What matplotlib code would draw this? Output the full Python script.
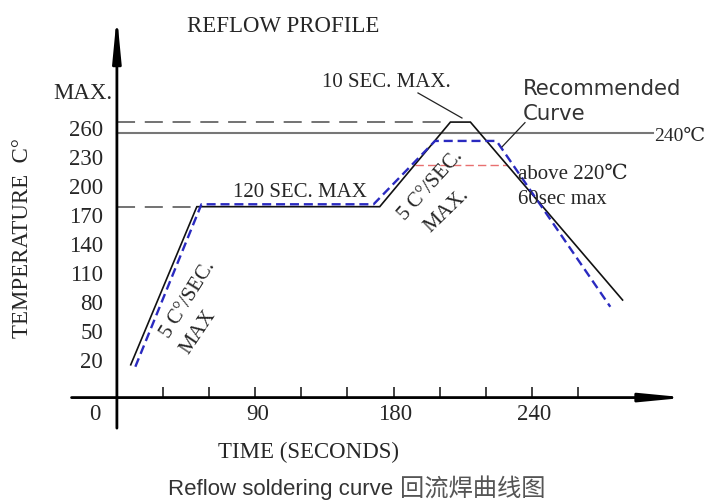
import matplotlib
matplotlib.use("Agg")
import matplotlib.pyplot as plt

plt.rcParams["lines.scale_dashes"] = False

# ---------------- data (chart units) ----------------
time_recommended = [9, 52, 171, 217, 230, 329]
temp_recommended = [15, 178.5, 178.5, 266, 266, 82]

time_alternative = [12, 55, 167, 207, 247, 321]
temp_alternative = [13, 181, 181, 246.5, 246.5, 75]

soak_limit_temp = 178.5      # dashed line labelled 170
soak_limit_end = 51
peak_limit_temp = 266        # dashed line labelled 260
peak_limit_end = 216
liquidus_temp = 255          # solid line labelled 240℃
liquidus_end = 349
above220_temp = 221.6        # red dashed, "above 220℃"
above220_start = 194
above220_end = 254

ytick_values = [20, 50, 80, 110, 140, 170, 200, 230, 260]
ytick_labels = ["20", "50", "80", "110", "140", "170", "200", "230", "260"]
max_label_value = 297
xtick_marks = [30, 60, 90, 120, 150, 180, 210, 240, 270, 300]
xlabel_positions = [90, 180, 270]
xlabel_texts = ["90", "180", "240"]

# ---------------- layout ----------------
W, H = 709, 503
X0_PX, X_SCALE = 116.9, 1.537     # px of t=0, px per second
Y0_PX, Y_SCALE = 379.3, 0.967     # px of T=0, px per degree
PX_T = 1 / Y_SCALE                # one pixel in temperature units
PX_S = 1 / X_SCALE                # one pixel in seconds

fig = plt.figure(figsize=(W / 100, H / 100), dpi=100)
ax = fig.add_axes([0, 0, 1, 1])
ax.set_xlim(-X0_PX / X_SCALE, (W - X0_PX) / X_SCALE)
ax.set_ylim((Y0_PX - H) / Y_SCALE, Y0_PX / Y_SCALE)
ax.axis("off")

serif = ["Liberation Serif", "DejaVu Serif", "Noto Sans CJK SC"]
tc = "#262626"

x_axis_T = -18.9
# axes with arrows
ax.annotate("", xy=(0, 376.5), xytext=(0, -50.5),
            arrowprops=dict(arrowstyle="-|>,head_length=2.6,head_width=0.25",
                            mutation_scale=10, lw=2.0, color="black",
                            shrinkA=0, shrinkB=0))
ax.annotate("", xy=(370.5, x_axis_T), xytext=(-29.5, x_axis_T),
            arrowprops=dict(arrowstyle="-|>,head_length=2.6,head_width=0.25",
                            mutation_scale=10, lw=2.0, color="black",
                            shrinkA=0, shrinkB=0))
# tick marks
ax.vlines(xtick_marks, x_axis_T, x_axis_T + 11 * PX_T, color="#333333", lw=1.3)

# reference lines
ax.plot([0, peak_limit_end], [peak_limit_temp] * 2, color="#5a5a5a", lw=1.2,
        dashes=(13, 7))
ax.plot([0, soak_limit_end], [soak_limit_temp] * 2, color="#5a5a5a", lw=1.2,
        dashes=(13, 7))
ax.plot([0, liquidus_end], [liquidus_temp] * 2, color="#777777", lw=1.5)
ax.plot([above220_start, above220_end], [above220_temp] * 2, color="#e87070",
        lw=1.0, dashes=(6, 3))

# curves
ax.plot(time_recommended, temp_recommended, color="#111111", lw=1.2,
        solid_joinstyle="miter")
ax.plot(time_alternative, temp_alternative, color="#2a2ac0", lw=1.7,
        dashes=(6.5, 3.5))

# leader lines
ax.plot([195.9, 224.5], [296.1, 270.2], color="#222222", lw=0.9)
ax.plot([265.5, 250.6], [265.4, 240.4], color="#222222", lw=0.9)

# y tick labels
for v, lab in zip(ytick_values, ytick_labels):
    ax.text(-9.0, v - 8.5 * PX_T, lab, ha="right", va="baseline",
            fontsize=16.5, family=serif, color=tc)
ax.text(-2.6, max_label_value - 7 * PX_T, "MAX.", ha="right", va="baseline",
        fontsize=16.5, family=serif, color=tc)

# x tick labels
for p, lab in zip(xlabel_positions, xlabel_texts):
    ax.text(p + 2 * PX_S, -42.0, lab, ha="center", va="baseline",
            fontsize=16.5, family=serif, color=tc)
ax.text(-14.2, -42.0, "0", ha="center", va="baseline", fontsize=16.5,
        family=serif, color=tc)

# titles
ax.text(108.0, 359.2, "REFLOW PROFILE", ha="center", va="baseline",
        fontsize=16.5, family=serif, color=tc)
ax.text(65.8, -81.4, "TIME (SECONDS)", ha="left", va="baseline",
        fontsize=16.5, family=serif, color=tc)
ax.text(-61.7, 146.1, "TEMPERATURE  C°", ha="center", va="center",
        rotation=90, fontsize=16.5, family=serif, color=tc)

# annotations
ax.text(133.4, 302.4, "10 SEC. MAX.", ha="left", va="baseline",
        fontsize=15, family=serif, color=tc)
ax.text(75.6, 188.5, "120 SEC. MAX", ha="left", va="baseline",
        fontsize=15, family=serif, color=tc)
ax.text(264.2, 293.9, "Recommended", ha="left", va="baseline",
        fontsize=15.3, family=["DejaVu Sans"], color="#333333")
ax.text(264.2, 268.0, "Curve", ha="left", va="baseline",
        fontsize=15.3, family=["DejaVu Sans"], color="#333333")
ax.text(349.8, 246.6, "240℃", ha="left", va="baseline",
        fontsize=14, family=serif, color=tc)
ax.text(260.9, 207.2, "above 220℃", ha="left", va="baseline",
        fontsize=15, family=serif, color=tc)
ax.text(260.9, 181.3, "60sec max", ha="left", va="baseline",
        fontsize=15, family=serif, color=tc)

# rotated slope annotations
ax.text(46.3, 82.2, "5 C°/SEC.", ha="center", va="center", rotation=58,
        rotation_mode="anchor", fontsize=15, family=serif, color=tc)
ax.text(52.8, 49.0, "MAX", ha="center", va="center", rotation=56,
        rotation_mode="anchor", fontsize=15, family=serif, color=tc)
ax.text(204.0, 199.8, "5 C°/SEC.", ha="center", va="center", rotation=48,
        rotation_mode="anchor", fontsize=15, family=serif, color=tc)
ax.text(214.8, 174.1, "MAX.", ha="center", va="center", rotation=44,
        rotation_mode="anchor", fontsize=15, family=serif, color=tc)

# caption
ax.text(33.2, -120.0, "Reflow soldering curve", ha="left", va="baseline",
        fontsize=16, family=["Liberation Sans", "DejaVu Sans"], color="#333333")
ax.text(184.2, -120.0, "回流焊曲线图", ha="left", va="baseline",
        fontsize=17.5, family=["Noto Sans CJK SC", "DejaVu Sans"], color="#555555")

fig.savefig("out.png", dpi=100, facecolor="white")
